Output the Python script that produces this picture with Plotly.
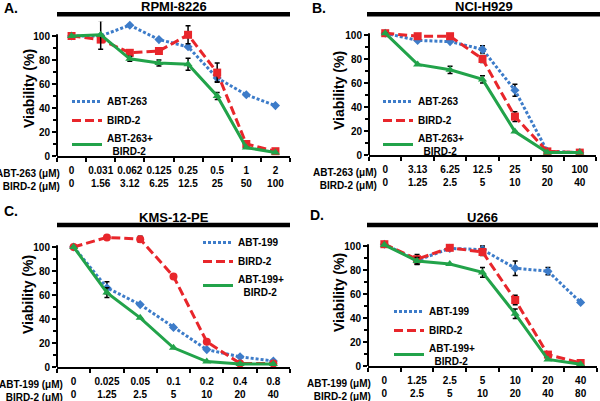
import plotly.graph_objects as go

W, H = 600, 401
FONT = "Liberation Sans, Arial, sans-serif"

BLUE = "#3d7cc9"
RED = "#e8262b"
GREEN = "#22a34a"

# ---------------- Panel A: RPMI-8226 ----------------
a_abt = ["0", "0.031", "0.062", "0.125", "0.25", "0.5", "1", "2"]
a_bird = ["0", "1.56", "3.12", "6.25", "12.5", "25", "50", "100"]
a_single = [100, 100, 109, 97, 91, 65, 51, 42]
a_single_err = [None, None, None, None, None, 3, None, None]
a_bird2 = [100, 97, 86, 87.5, 101, 69.5, 10, 4]
a_bird2_err = [None, None, None, None, 7.5, 8, None, None]
a_combo = [100, 101, 81, 77.5, 76.5, 50, 7, 3]
a_combo_err = [None, 12, 2, 2.5, 5, 3, None, None]

# ---------------- Panel B: NCI-H929 ----------------
b_abt = ["0", "3.13", "6.25", "12.5", "25", "50", "100"]
b_bird = ["0", "1.25", "2.5", "5", "10", "20", "40"]
b_single = [101.5, 95.5, 94.5, 88, 54, 3, 2]
b_single_err = [None, None, None, 3, 5, None, None]
b_bird2 = [101.5, 99, 99, 80, 32, 3, 2]
b_bird2_err = [None, None, None, 3, 4, None, None]
b_combo = [101.5, 75.5, 71, 63, 19.5, 2, 2]
b_combo_err = [None, None, 3, 3, None, None, None]

# ---------------- Panel C: KMS-12-PE ----------------
c_abt = ["0", "0.025", "0.05", "0.1", "0.2", "0.4", "0.8"]
c_bird = ["0", "1.25", "2.5", "5", "10", "20", "40"]
c_single = [100, 66, 52, 33, 14.5, 8.5, 5]
c_single_err = [None, 5, None, None, None, None, None]
c_bird2 = [100, 108, 106.5, 75.5, 21, 3, 3]
c_bird2_err = [None, None, 2.5, None, None, None, None]
c_combo = [100, 62, 41, 16, 4.5, 2.5, 2.5]
c_combo_err = [None, 4, None, None, None, None, None]

# ---------------- Panel D: U266 ----------------
d_abt = ["0", "1.25", "2.5", "5", "10", "20", "40"]
d_bird = ["0", "2.5", "5", "10", "20", "40", "80"]
d_single = [101.5, 88, 98, 97, 81.5, 79, 53]
d_single_err = [None, 3, None, 3, 6, 3, None]
d_bird2 = [101.5, 89, 98.5, 95, 55, 9.5, 2.5]
d_bird2_err = [None, 4, None, 3, 4, None, None]
d_combo = [101, 87.5, 85, 78, 43.5, 5.5, 1.5]
d_combo_err = [None, 3, None, 4, 4, None, None]


def px(x):
    return x / W


def py(y):
    return 1 - y / H


panels = [
    dict(key="", letter="A.", title="RPMI-8226", drug="ABT-263",
         abt=a_abt, bird=a_bird,
         single=a_single, single_err=a_single_err,
         bird2=a_bird2, bird2_err=a_bird2_err,
         combo=a_combo, combo_err=a_combo_err,
         x0=57, x1=290, y0=156, y100=36, bar=(57, 290, 14.3), title_y=6.5,
         letter_xy=(2, 8), rowlab_x=62, leg=(67, 87), ytitle=(29, 89),
         bird_sym="square"),
    dict(key="2", letter="B.", title="NCI-H929", drug="ABT-263",
         abt=b_abt, bird=b_bird,
         single=b_single, single_err=b_single_err,
         bird2=b_bird2, bird2_err=b_bird2_err,
         combo=b_combo, combo_err=b_combo_err,
         x0=369, x1=596, y0=155, y100=35, bar=(367, 600, 14.3), title_y=6.5,
         letter_xy=(310, 8), rowlab_x=379, leg=(378, 87), ytitle=(339, 90),
         bird_sym="square"),
    dict(key="3", letter="C.", title="KMS-12-PE", drug="ABT-199",
         abt=c_abt, bird=c_bird,
         single=c_single, single_err=c_single_err,
         bird2=c_bird2, bird2_err=c_bird2_err,
         combo=c_combo, combo_err=c_combo_err,
         x0=57, x1=290, y0=367, y100=247, bar=(57, 290, 225), title_y=217,
         letter_xy=(2, 211), rowlab_x=65, leg=(198, 228), ytitle=(28, 295),
         bird_sym="circle"),
    dict(key="4", letter="D.", title="U266", drug="ABT-199",
         abt=d_abt, bird=d_bird,
         single=d_single, single_err=d_single_err,
         bird2=d_bird2, bird2_err=d_bird2_err,
         combo=d_combo, combo_err=d_combo_err,
         x0=368, x1=597, y0=366, y100=246, bar=(367, 598, 225), title_y=217,
         letter_xy=(308, 215), rowlab_x=373, leg=(389, 297), ytitle=(339, 292),
         bird_sym="square"),
]

fig = go.Figure()
layout = dict(
    width=W, height=H, margin=dict(l=0, r=0, t=0, b=0, autoexpand=False),
    paper_bgcolor="white", plot_bgcolor="white",
    font=dict(family=FONT, size=10, color="black"),
    shapes=[], annotations=[],
)

for p in panels:
    k = p["key"]
    xa, ya = "x" + k, "y" + k
    leg = "legend" + k
    n = len(p["abt"])
    xs = list(range(n))

    def err(arr):
        return dict(type="data", array=arr, visible=True, color="black",
                    thickness=1.5, width=2.5)

    series = [
        (p["drug"], p["single"], p["single_err"], BLUE, "3px,2px", "diamond", 7),
        ("BIRD-2", p["bird2"], p["bird2_err"], RED, "9px,4px", p["bird_sym"], 8),
        (p["drug"] + "+<br>\u00a0\u00a0BIRD-2", p["combo"], p["combo_err"], GREEN,
         "solid", "triangle-up", 8),
    ]
    for name, vals, e, col, dash, sym, msz in series:
        fig.add_trace(go.Scatter(
            x=xs, y=vals, mode="lines+markers", xaxis=xa, yaxis=ya,
            line=dict(color=col, width=3, dash=dash),
            marker=dict(symbol=sym, size=msz, color=col),
            error_y=err(e), cliponaxis=False, showlegend=False,
        ))
    for name, vals, e, col, dash, sym, msz in series:
        fig.add_trace(go.Scatter(
            x=[None], y=[None], mode="lines", xaxis=xa, yaxis=ya, name=name,
            line=dict(color=col, width=3, dash=dash), legend=leg,
            showlegend=True,
        ))

    ytop = p["y0"] - 1.12 * (p["y0"] - p["y100"])
    layout["xaxis" + k] = dict(
        domain=[px(p["x0"]), px(p["x1"])], anchor=ya, automargin=False,
        range=[-0.5, n - 0.5], showgrid=False, zeroline=False,
        showline=True, linewidth=2, linecolor="black",
        tickmode="array", tickvals=xs,
        ticktext=[f"{a}<br>{b}" for a, b in zip(p["abt"], p["bird"])],
        ticks="outside", ticklen=3, tickcolor="rgba(0,0,0,0)",
        ticklabelstandoff=1,
        tickfont=dict(family=FONT, size=10, weight="bold"),
        minor=dict(tickmode="array", tickvals=[i - 0.5 for i in range(n + 1)],
                   ticks="outside", ticklen=4, tickwidth=1.5, tickcolor="black"),
        fixedrange=True,
    )
    layout["yaxis" + k] = dict(
        domain=[py(p["y0"]), py(ytop)], anchor=xa, automargin=False,
        range=[0, 112], showgrid=False, zeroline=False, showline=False,
        tickmode="array", tickvals=[0, 20, 40, 60, 80, 100],
        ticks="outside", ticklen=4, tickwidth=1.5, tickcolor="black",
        tickfont=dict(family=FONT, size=10, weight="bold"),
        minor=dict(tickmode="array", tickvals=[10, 30, 50, 70, 90],
                   ticks="outside", ticklen=3, tickwidth=1.5, tickcolor="black"),
        fixedrange=True,
    )
    layout[leg] = dict(
        x=px(p["leg"][0]), y=py(p["leg"][1]), xanchor="left", yanchor="top",
        bgcolor="rgba(0,0,0,0)", borderwidth=0,
        font=dict(family=FONT, size=10, weight="bold"),
        tracegroupgap=0,
    )
    # y axis title
    layout["annotations"].append(dict(
        text="Viability (%)", xref="paper", yref="paper",
        x=px(p["ytitle"][0]), y=py(p["ytitle"][1]), showarrow=False,
        textangle=-90, xanchor="center", yanchor="middle",
        font=dict(family=FONT, size=14, weight="bold")))
    # y axis line (from 0 to just above 100)
    layout["shapes"].append(dict(
        type="line", xref=xa + " domain", yref=ya, x0=0, x1=0, y0=0, y1=101.5,
        line=dict(color="black", width=2)))
    # title bar
    bx0, bx1, by = p["bar"]
    layout["shapes"].append(dict(
        type="line", xref="paper", yref="paper", x0=px(bx0), x1=px(bx1),
        y0=py(by), y1=py(by), line=dict(color="black", width=4.5)))
    layout["annotations"].append(dict(
        text=p["title"], xref="paper", yref="paper",
        x=px((bx0 + bx1) / 2), y=py(p["title_y"]), showarrow=False,
        xanchor="center", yanchor="middle",
        font=dict(family=FONT, size=13, weight="bold")))
    layout["annotations"].append(dict(
        text=p["letter"], xref="paper", yref="paper",
        x=px(p["letter_xy"][0]), y=py(p["letter_xy"][1]), showarrow=False,
        xanchor="left", yanchor="middle",
        font=dict(family=FONT, size=14, weight="bold")))
    layout["annotations"].append(dict(
        text=f"{p['drug']} (μM)<br>BIRD-2 (μM)", xref="paper", yref="paper",
        x=px(p["rowlab_x"]), y=py(p["y0"] + 10), showarrow=False,
        xanchor="right", yanchor="top", align="right",
        font=dict(family=FONT, size=10, weight="bold")))

fig.update_layout(**layout)
fig.write_html(
    "out.html",
    config={"displayModeBar": False},
    post_script="document.body.style.margin='0';document.body.style.overflow='hidden';",
)
